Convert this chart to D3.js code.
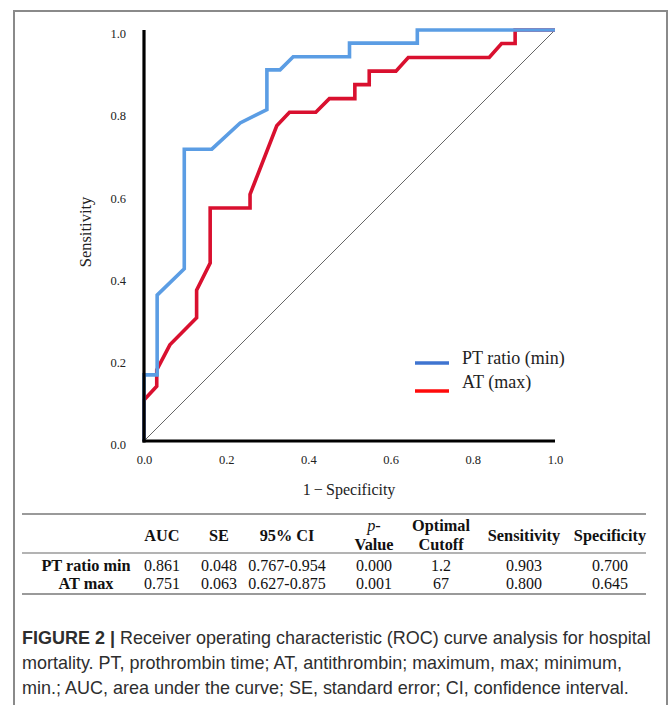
<!DOCTYPE html>
<html>
<head>
<meta charset="utf-8">
<script src="https://cdn.jsdelivr.net/npm/d3@7"></script>
<style>
  html, body { margin: 0; padding: 0; background: #fff; }
  svg { display: block; }
</style>
</head>
<body>
<svg id="chart" width="669" height="705"></svg>
<script>
// ---------- data ----------
const ptFpr = [0, 0, 0.032, 0.032, 0.098, 0.098, 0.165, 0.234, 0.299, 0.299, 0.331, 0.363, 0.5, 0.5, 0.665, 0.665, 1];
const ptTpr = [0, 0.161, 0.161, 0.355, 0.419, 0.710, 0.710, 0.774, 0.806, 0.903, 0.903, 0.935, 0.935, 0.968, 0.968, 1, 1];
const atFpr = [0, 0, 0.031, 0.031, 0.063, 0.128, 0.128, 0.161, 0.161, 0.258, 0.258, 0.323, 0.354, 0.418, 0.451, 0.513, 0.513, 0.548, 0.548, 0.613, 0.643, 0.840, 0.870, 0.903, 0.903, 1];
const atTpr = [0, 0.100, 0.133, 0.173, 0.234, 0.300, 0.367, 0.433, 0.567, 0.567, 0.600, 0.767, 0.800, 0.800, 0.833, 0.833, 0.867, 0.867, 0.900, 0.900, 0.933, 0.933, 0.967, 0.967, 1, 1];
const seriesNames = ["PT ratio (min)", "AT (max)"];
const curveColors = ["#5b9de4", "#d9102f"];
const legendColors = ["#3f74d0", "#ff0a0a"];
const tickValues = [0, 0.2, 0.4, 0.6, 0.8, 1.0];
const xTitle = "1\u2009\u2212\u2009Specificity";
const yTitle = "Sensitivity";

const tableHeader = [["", ""], ["AUC"], ["SE"], ["95% CI"], ["p-", "Value"], ["Optimal", "Cutoff"], ["Sensitivity"], ["Specificity"]];
const rowNames = ["PT ratio min", "AT max"];
const rowAUC = ["0.861", "0.751"];
const rowSE = ["0.048", "0.063"];
const rowCI = ["0.767-0.954", "0.627-0.875"];
const rowP = ["0.000", "0.001"];
const rowCutoff = ["1.2", "67"];
const rowSens = ["0.903", "0.800"];
const rowSpec = ["0.700", "0.645"];

const captionLines = [
  ["FIGURE 2 |", " Receiver operating characteristic (ROC) curve analysis for hospital"],
  ["", "mortality. PT, prothrombin time; AT, antithrombin; maximum, max; minimum,"],
  ["", "min.; AUC, area under the curve; SE, standard error; CI, confidence interval."]
];

// ---------- layout ----------
const svg = d3.select("#chart");
svg.append("rect").attr("width", 669).attr("height", 705).attr("fill", "#fff");

// outer frame (no bottom edge visible)
svg.append("path")
  .attr("d", "M14,705 L14,11 L667,11 L667,705")
  .attr("fill", "none").attr("stroke", "#8a8a8a").attr("stroke-width", 2);

const x = d3.scaleLinear().domain([0, 1]).range([144, 555]);
const y = d3.scaleLinear().domain([0, 1]).range([441, 30]);

const serif = "'Liberation Serif', 'DejaVu Serif', serif";

// diagonal reference
svg.append("line")
  .attr("x1", x(0)).attr("y1", y(0)).attr("x2", x(1)).attr("y2", y(1))
  .attr("stroke", "#555").attr("stroke-width", 0.9);

// curves
const line = d3.line().x(d => x(d[0])).y(d => y(d[1]));
const curves = [d3.zip(ptFpr, ptTpr), d3.zip(atFpr, atTpr)];
[1, 0].forEach(i => {
  svg.append("path")
    .datum(curves[i])
    .attr("d", line)
    .attr("fill", "none")
    .attr("stroke", curveColors[i])
    .attr("stroke-width", 3.6)
    .attr("stroke-linejoin", "miter");
});

// axes
const xAxis = d3.axisBottom(x).tickValues(tickValues).tickFormat(d3.format(".1f")).tickSize(0).tickPadding(14);
const yAxis = d3.axisLeft(y).tickValues(tickValues).tickFormat(d3.format(".1f")).tickSize(0).tickPadding(18);

const gx = svg.append("g").attr("transform", `translate(0,${y(0)})`).call(xAxis);
const gy = svg.append("g").attr("transform", `translate(${x(0)},0)`).call(yAxis);
[gx, gy].forEach(g => {
  g.select(".domain").attr("stroke", "#000").attr("stroke-width", 3.2);
  g.selectAll("text").attr("font-family", serif).attr("font-size", 12.5).attr("fill", "#222");
});
gy.selectAll("text").attr("dy", "0.62em");
gx.select(".domain").attr("d", `M${x(0) - 1.5},0H${x(1)}`);
gy.select(".domain").attr("d", `M0,${y(0) + 1.5}V${y(1)}`);

// axis titles
svg.append("text").attr("x", 349).attr("y", 489).attr("dy", "0.35em")
  .attr("text-anchor", "middle").attr("font-family", serif).attr("font-size", 16).attr("fill", "#222")
  .text(xTitle);
svg.append("text").attr("transform", "translate(85,232) rotate(-90)").attr("dy", "0.35em")
  .attr("text-anchor", "middle").attr("font-family", serif).attr("font-size", 16.5).attr("fill", "#222")
  .text(yTitle);

// legend
const legendY = [363, 391];
const legendTextY = [358, 382];
seriesNames.forEach((name, i) => {
  svg.append("line").attr("x1", 415).attr("x2", 449).attr("y1", legendY[i]).attr("y2", legendY[i])
    .attr("stroke", legendColors[i]).attr("stroke-width", 3.5);
  svg.append("text").attr("x", 462).attr("y", legendTextY[i]).attr("dy", "0.35em")
    .attr("font-family", serif).attr("font-size", 18).attr("fill", "#222").text(name);
});

// ---------- table ----------
const colX = [86, 162, 219, 287, 374, 441, 524, 610];
const ruleColor = "#9a9a9a";
[514, 553, 594].forEach(ry => {
  svg.append("line").attr("x1", 22).attr("x2", 646).attr("y1", ry).attr("y2", ry)
    .attr("stroke", ruleColor).attr("stroke-width", ry === 553 ? 1.4 : 2);
});
const headSize = 16.3;
tableHeader.forEach((h, i) => {
  if (h.length === 1) {
    svg.append("text").attr("x", colX[i]).attr("y", 535).attr("dy", "0.35em")
      .attr("text-anchor", "middle").attr("font-family", serif).attr("font-weight", "bold")
      .attr("font-size", headSize).attr("fill", "#111").text(h[0]);
  } else if (h[0] !== "") {
    const t1 = svg.append("text").attr("x", colX[i]).attr("y", 525).attr("dy", "0.35em")
      .attr("text-anchor", "middle").attr("font-family", serif).attr("font-weight", "bold")
      .attr("font-size", headSize).attr("fill", "#111");
    if (h[0] === "p-") {
      t1.append("tspan").attr("font-style", "italic").attr("font-weight", "normal").text("p");
      t1.append("tspan").attr("font-weight", "normal").text("-");
    } else {
      t1.text(h[0]);
    }
    svg.append("text").attr("x", colX[i]).attr("y", 544).attr("dy", "0.35em")
      .attr("text-anchor", "middle").attr("font-family", serif).attr("font-weight", "bold")
      .attr("font-size", headSize).attr("fill", "#111").text(h[1]);
  }
});
const rowY = [565, 583];
const cols = [rowAUC, rowSE, rowCI, rowP, rowCutoff, rowSens, rowSpec];
rowNames.forEach((rn, r) => {
  svg.append("text").attr("x", colX[0]).attr("y", rowY[r]).attr("dy", "0.35em")
    .attr("text-anchor", "middle").attr("font-family", serif).attr("font-weight", "bold")
    .attr("font-size", 16.3).attr("fill", "#111").text(rn);
  cols.forEach((c, ci) => {
    svg.append("text").attr("x", colX[ci + 1]).attr("y", rowY[r]).attr("dy", "0.35em")
      .attr("text-anchor", "middle").attr("font-family", serif)
      .attr("font-size", 16).attr("fill", "#111").text(c[r]);
  });
});

// ---------- caption ----------
const capFont = "'Liberation Sans', Arial, sans-serif";
const capY = [644, 669, 694];
const capNodes = captionLines.map((ln, i) => {
  const t = svg.append("text").attr("x", 22).attr("y", capY[i])
    .attr("font-family", capFont).attr("font-size", 16).attr("fill", "#2e2e2e");
  if (ln[0]) t.append("tspan").attr("font-weight", "bold").text(ln[0]);
  t.append("tspan").text(ln[1]);
  return t;
});
// fit first line width to the frame
const w0 = capNodes[0].node().getComputedTextLength();
const fs = 16 * 629 / w0;
capNodes.forEach(t => t.attr("font-size", fs));
</script>
</body>
</html>
